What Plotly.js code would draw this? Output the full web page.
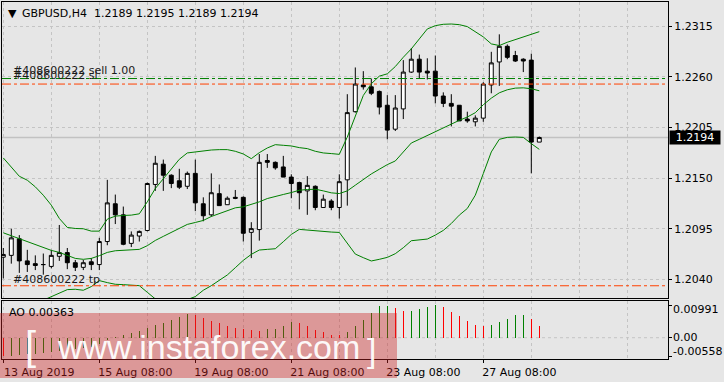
<!DOCTYPE html>
<html><head><meta charset="utf-8">
<script src="https://cdn.plot.ly/plotly-3.0.1.min.js"></script>
<style>html,body{margin:0;padding:0;background:#e6e6e6;}#chart{width:724px;height:382px;}</style>
</head><body><div id="chart"></div>
<script>
// ---------------- data ----------------
const symbol = 'GBPUSD,H4';
const ticket = '#408600222';
const open = [1.2064,1.2066,1.2084,1.2060,1.2057,1.2056,1.2054,1.2065,1.2069,1.2058,
1.2053,1.2059,1.2056,1.2081,1.2122,1.2110,1.2079,1.2087,1.2093,1.2143,
1.2165,1.2153,1.2147,1.2141,1.2155,1.2122,1.2110,1.2133,1.2121,1.2129,
1.2129,1.2091,1.2094,1.2169,1.2167,1.2162,1.2151,1.2145,1.2136,1.2141,
1.2118,1.2125,1.2118,1.2148,1.2222,1.2251,1.2249,1.2244,1.2229,1.2203,
1.2225,1.2265,1.2279,1.2266,1.2266,1.2239,1.2231,1.2229,1.2214,1.2211,
1.2215,1.2251,1.2276,1.2293,1.2283,1.2279,1.2278,1.2189];
const high = [1.2074,1.2095,1.2088,1.2072,1.2066,1.2068,1.2072,1.2099,1.2074,1.2061,
1.2061,1.2063,1.2085,1.2148,1.2132,1.2119,1.2092,1.2093,1.2145,1.2174,
1.2170,1.2154,1.2160,1.2157,1.2170,1.2129,1.2155,1.2143,1.2130,1.2137,
1.2130,1.2102,1.2176,1.2176,1.2168,1.2174,1.2154,1.2146,1.2152,1.2142,
1.2132,1.2127,1.2154,1.2241,1.2270,1.2266,1.2258,1.2245,1.2240,1.2240,
1.2278,1.2291,1.2284,1.2280,1.2283,1.2243,1.2241,1.2229,1.2222,1.2218,
1.2254,1.2287,1.2306,1.2295,1.2288,1.2280,1.2285,1.2195];
const low = [1.2041,1.2057,1.2047,1.2048,1.2050,1.2045,1.2052,1.2060,1.2051,1.2049,
1.2050,1.2050,1.2050,1.2077,1.2100,1.2077,1.2075,1.2081,1.2092,1.2136,
1.2136,1.2139,1.2138,1.2138,1.2114,1.2103,1.2108,1.2120,1.2121,1.2127,
1.2081,1.2063,1.2082,1.2161,1.2159,1.2151,1.2128,1.2116,1.2110,1.2115,
1.2118,1.2115,1.2106,1.2120,1.2221,1.2246,1.2240,1.2219,1.2192,1.2201,
1.2214,1.2264,1.2258,1.2257,1.2231,1.2227,1.2206,1.2212,1.2210,1.2206,
1.2211,1.2242,1.2250,1.2279,1.2276,1.2265,1.2155,1.2189];
const close = [1.2067,1.2085,1.2060,1.2056,1.2055,1.2056,1.2066,1.2069,1.2058,1.2053,
1.2058,1.2056,1.2081,1.2123,1.2110,1.2078,1.2088,1.2092,1.2144,1.2166,
1.2153,1.2144,1.2140,1.2155,1.2123,1.2109,1.2134,1.2120,1.2128,1.2128,
1.2090,1.2095,1.2167,1.2167,1.2161,1.2151,1.2144,1.2134,1.2142,1.2118,
1.2127,1.2118,1.2146,1.2221,1.2252,1.2249,1.2242,1.2227,1.2202,1.2226,
1.2265,1.2279,1.2265,1.2264,1.2239,1.2231,1.2228,1.2212,1.2212,1.2215,
1.2252,1.2275,1.2293,1.2281,1.2277,1.2277,1.2189,1.2194];
const bbUpper = [1.21718,1.21620,1.21519,1.21476,1.21404,1.21313,1.21205,1.21061,1.20963,1.20952,
1.20949,1.20923,1.20923,1.21053,1.21086,1.21093,1.21097,1.21111,1.21241,1.21386,
1.21494,1.21602,1.21703,1.21772,1.21783,1.21790,1.21804,1.21808,1.21808,1.21790,
1.21761,1.21710,1.21775,1.21826,1.21862,1.21855,1.21848,1.21830,1.21819,1.21790,
1.21772,1.21765,1.21757,1.21945,1.22180,1.22396,1.22523,1.22606,1.22631,1.22710,
1.22811,1.22902,1.23010,1.23118,1.23154,1.23169,1.23172,1.23165,1.23144,1.23089,
1.23032,1.22956,1.22938,1.22974,1.23003,1.23032,1.23061,1.23089];
const bbMiddle = [1.20905,1.20873,1.20837,1.20808,1.20772,1.20743,1.20714,1.20692,1.20656,1.20627,
1.20617,1.20627,1.20656,1.20692,1.20710,1.20714,1.20714,1.20725,1.20765,1.20822,
1.20866,1.20909,1.20952,1.20996,1.21017,1.21039,1.21082,1.21111,1.21147,1.21176,
1.21187,1.21212,1.21241,1.21277,1.21295,1.21321,1.21342,1.21367,1.21375,1.21378,
1.21360,1.21339,1.21331,1.21360,1.21422,1.21483,1.21544,1.21595,1.21645,1.21685,
1.21783,1.21880,1.21920,1.21963,1.22006,1.22043,1.22089,1.22126,1.22162,1.22209,
1.22295,1.22367,1.22425,1.22458,1.22476,1.22479,1.22469,1.22447];
const bbLower = [1.20093,1.20122,1.20151,1.20136,1.20136,1.20173,1.20209,1.20252,1.20288,1.20292,
1.20281,1.20321,1.20386,1.20364,1.20346,1.20342,1.20339,1.20331,1.20259,1.20187,
1.20158,1.20151,1.20158,1.20180,1.20212,1.20281,1.20331,1.20393,1.20447,1.20526,
1.20606,1.20671,1.20718,1.20725,1.20732,1.20808,1.20887,1.20942,1.20934,1.20923,
1.20916,1.20913,1.20909,1.20790,1.20674,1.20635,1.20599,1.20617,1.20638,1.20678,
1.20743,1.20819,1.20826,1.20837,1.20880,1.20931,1.21006,1.21097,1.21169,1.21313,
1.21548,1.21783,1.21920,1.21941,1.21945,1.21941,1.21873,1.21811];
const ao = [-0.00558,-0.0054,-0.0052,-0.0050,-0.0048,-0.0046,-0.0043,-0.0040,-0.0037,-0.0034,
-0.0031,-0.0028,-0.0020,-0.0008,0.0002,0.0008,0.0015,0.0021,0.0028,0.0038,
0.0044,0.0055,0.0063,0.0071,0.0069,0.0059,0.0052,0.0044,0.0036,0.0029,
0.0027,0.0023,0.0019,0.0026,0.0027,0.0034,0.0049,0.0046,0.0034,0.0022,
0.0016,0.0009,0.0008,0.0016,0.0035,0.00536,0.00758,0.00971,0.00975,0.00890,
0.00815,0.00825,0.00869,0.00940,0.00991,0.00940,0.00778,0.00657,0.00506,0.00384,
0.00354,0.00394,0.00475,0.00566,0.00687,0.00690,0.00566,0.00363];
const sellPrice = 1.2258, slPrice = 1.2252, tpPrice = 1.2033;
const priceTicks = [1.2040,1.2095,1.2150,1.2205,1.2260,1.2315];
const aoTicks = [0.00991, 0.00, -0.00558];
const aoTickText = ['0.00991','0.00','-0.00558'];
const dateTickIdx = [0,12,24,36,48,60];
const dateTickText = ['13 Aug 2019','15 Aug 08:00','19 Aug 08:00','21 Aug 08:00','23 Aug 08:00','27 Aug 08:00'];

// ---------------- layout helpers ----------------
const idx = open.map((_, i) => i);
const last = idx.length - 1;
const FONT = 'DejaVu Sans';
const BG = '#e6e6e6';
const GRID = '#c4c4c4';
const pxL = 2, pxR = 668, pxTop = 2, pxMainBot = 298, pxAoTop = 301, pxAoBot = 359;
const totH = pxAoBot - pxTop;
const px2paperX = px => (px - pxL) / (pxR - pxL);
const px2paperY = py => (pxAoBot - py) / totH;
const barPx0 = 3.3, barStep = 8;
const xRange = [(pxL - barPx0) / barStep, (pxR - barPx0) / barStep];
const yMainRange = [1.20197, 1.23411];
const yAoRange = [-0.00646, 0.01113];
const gridIdx = []; for (let k = 0; k * 6 <= xRange[1]; k++) gridIdx.push(k * 6);
const minorIdx = gridIdx.filter(v => v % 12 !== 0);

const aoColors = ao.map((v, i) => i === 0 ? '#ff0000' : (v > ao[i - 1] ? '#008000' : '#ff0000'));

const traces = [
  {type:'scatter', mode:'lines', x:idx, y:bbUpper, line:{color:'#008000', width:1}, hoverinfo:'skip', xaxis:'x', yaxis:'y'},
  {type:'scatter', mode:'lines', x:idx, y:bbMiddle, line:{color:'#008000', width:1}, hoverinfo:'skip', xaxis:'x', yaxis:'y'},
  {type:'scatter', mode:'lines', x:idx, y:bbLower, line:{color:'#008000', width:1}, hoverinfo:'skip', xaxis:'x', yaxis:'y'},
  {type:'candlestick', x:idx, open:open, high:high, low:low, close:close, xaxis:'x', yaxis:'y',
   increasing:{fillcolor:'#ffffff', line:{color:'#000000', width:1}},
   decreasing:{fillcolor:'#000000', line:{color:'#000000', width:1}},
   whiskerwidth:0, hoverinfo:'skip'},
  {type:'bar', x:idx, y:ao, width:0.13, marker:{color:aoColors, line:{width:0}}, xaxis:'x2', yaxis:'y2', hoverinfo:'skip'}
];

const fmt4 = v => v.toFixed(4);
const annotations = [
  {xref:'paper', yref:'paper', x:px2paperX(6), y:px2paperY(13), xanchor:'left', yanchor:'middle', showarrow:false,
   text:'▼', font:{family:FONT, size:11, color:'#000000'}},
  {xref:'paper', yref:'paper', x:px2paperX(20), y:px2paperY(13), xanchor:'left', yanchor:'middle', showarrow:false,
   text:symbol + '\u00a0\u00a0' + [open[last], high[last], low[last], close[last]].map(fmt4).join(' '),
   font:{family:FONT, size:11, color:'#000000'}},
  {xref:'paper', yref:'y', x:px2paperX(11), y:sellPrice, xanchor:'left', yanchor:'bottom', showarrow:false,
   text:ticket + ' sell 1.00', font:{family:FONT, size:11, color:'#1a1a1a'}},
  {xref:'paper', yref:'y', x:px2paperX(11), y:slPrice, xanchor:'left', yanchor:'bottom', showarrow:false,
   text:ticket + ' sl', font:{family:FONT, size:11, color:'#1a1a1a'}},
  {xref:'paper', yref:'y', x:px2paperX(11), y:tpPrice, xanchor:'left', yanchor:'bottom', showarrow:false, yshift:-2,
   text:ticket + ' tp', font:{family:FONT, size:11, color:'#1a1a1a'}},
  {xref:'paper', yref:'y', x:1, y:close[last], xanchor:'left', yanchor:'middle', showarrow:false, xshift:1,
   text:fmt4(close[last]), bgcolor:'#000000', width:50, height:13, borderpad:0,
   font:{family:FONT, size:11, color:'#ffffff'}},
  {xref:'paper', yref:'paper', x:px2paperX(7), y:px2paperY(312), xanchor:'left', yanchor:'middle', showarrow:false,
   text:'AO ' + ao[last].toFixed(5), font:{family:FONT, size:11, color:'#000000'}},
  // watermark
  {xref:'paper', yref:'paper', x:px2paperX(30), y:px2paperY(346), xanchor:'center', yanchor:'middle', showarrow:false,
   text:'[', font:{family:'Liberation Sans', size:40, color:'rgba(255,255,255,0.95)'}},
  {xref:'paper', yref:'paper', x:px2paperX(208), y:px2paperY(347), xanchor:'center', yanchor:'middle', showarrow:false,
   text:'www.instaforex.com', font:{family:'Liberation Sans', size:34, color:'rgba(255,255,255,0.95)'}},
  {xref:'paper', yref:'paper', x:px2paperX(371), y:px2paperY(350), xanchor:'center', yanchor:'middle', showarrow:false,
   text:']', font:{family:'Liberation Sans', size:34, color:'rgba(255,255,255,0.95)'}}
];
const aoShift = [-4, 0, 5];
aoTicks.forEach((v, k) => annotations.push({xref:'paper', yref:'y2', x:1, y:v, xanchor:'left', yanchor:'middle',
  showarrow:false, xshift:3, yshift:aoShift[k], text:aoTickText[k], font:{family:FONT, size:11, color:'#000000'}}));

const orderLine = (y, color) => ({type:'line', xref:'paper', yref:'y', x0:0, x1:1, y0:y, y1:y,
  line:{color:color, width:1, dash:'dashdot'}, layer:'above'});
const shapes = [
  {type:'line', xref:'paper', yref:'y', x0:0, x1:1, y0:close[last], y1:close[last], line:{color:'#c2c2c2', width:1.5}, layer:'below'},
  orderLine(sellPrice, '#008000'),
  orderLine(slPrice, '#ff4000'),
  orderLine(tpPrice, '#ff4000'),
  {type:'line', xref:'paper', yref:'y2', x0:0, x1:1, y0:0, y1:0, line:{color:GRID, width:1, dash:'3px,3px'}, layer:'below'},
  {type:'rect', xref:'paper', yref:'paper', x0:px2paperX(0), x1:px2paperX(397), y0:px2paperY(378), y1:px2paperY(313),
   fillcolor:'rgba(205,35,35,0.40)', line:{width:0}, layer:'above'}
];

const layout = {
  width:724, height:382,
  margin:{l:pxL, r:724 - pxR, t:pxTop, b:382 - pxAoBot},
  paper_bgcolor:BG, plot_bgcolor:BG,
  showlegend:false,
  xaxis:{domain:[0,1], anchor:'y', range:xRange, rangeslider:{visible:false},
    tickmode:'array', tickvals:gridIdx, showticklabels:false, ticks:'',
    showgrid:true, gridcolor:GRID, griddash:'3px,3px', gridwidth:1, zeroline:false,
    showline:true, mirror:true, linecolor:'#000000', linewidth:1},
  yaxis:{domain:[px2paperY(pxMainBot), 1], anchor:'x', side:'right', range:yMainRange,
    tickmode:'array', tickvals:priceTicks, ticktext:priceTicks.map(fmt4),
    ticks:'outside', ticklen:3, tickcolor:'#000000',
    tickfont:{family:FONT, size:11, color:'#000000'},
    showgrid:true, gridcolor:GRID, griddash:'3px,3px', zeroline:false,
    showline:true, mirror:true, linecolor:'#000000', linewidth:1},
  xaxis2:{domain:[0,1], anchor:'y2', range:xRange,
    tickmode:'array', tickvals:dateTickIdx, ticktext:dateTickText, ticks:'outside', ticklen:3, tickcolor:'#000000',
    ticklabelshift:36, tickfont:{family:FONT, size:11, color:'#000000'},
    showgrid:true, gridcolor:GRID, griddash:'3px,3px', zeroline:false,
    minor:{tickmode:'array', tickvals:minorIdx, showgrid:true, gridcolor:GRID, griddash:'3px,3px', ticks:''},
    showline:true, mirror:true, linecolor:'#000000', linewidth:1},
  yaxis2:{domain:[0, px2paperY(pxAoTop)], anchor:'x2', side:'right', range:yAoRange,
    tickmode:'array', tickvals:aoTicks, showticklabels:false, ticks:'outside', ticklen:3, tickcolor:'#000000',
    showgrid:false, zeroline:false,
    showline:true, mirror:true, linecolor:'#000000', linewidth:1},
  bargap:0,
  annotations:annotations,
  shapes:shapes
};

Plotly.newPlot('chart', traces, layout, {staticPlot:true, displayModeBar:false});
</script>
</body></html>
